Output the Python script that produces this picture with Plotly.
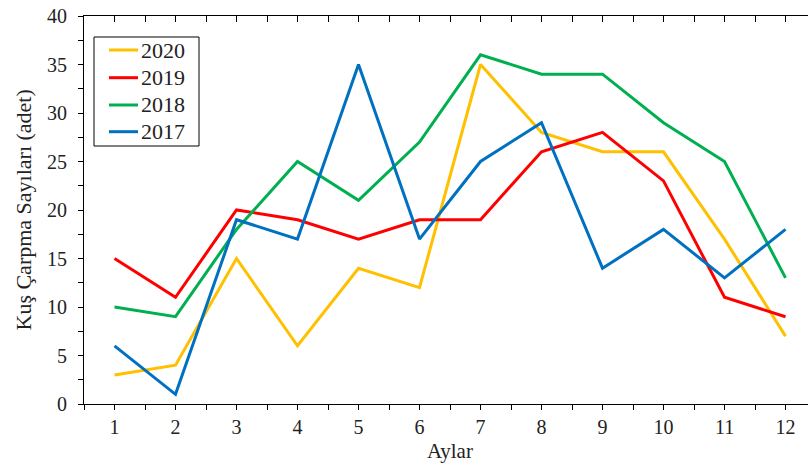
import plotly.graph_objects as go

months = list(range(1, 13))
series_names = ["2020", "2019", "2018", "2017"]
v2020 = [3, 4, 15, 6, 14, 12, 35, 28, 26, 26, 17, 7]
v2019 = [15, 11, 20, 19, 17, 19, 19, 26, 28, 23, 11, 9]
v2018 = [10, 9, 18, 25, 21, 27, 36, 34, 34, 29, 25, 13]
v2017 = [6, 1, 19, 17, 35, 17, 25, 29, 14, 18, 13, 18]
colors = ["#FFC000", "#FF0000", "#00B050", "#0070C0"]
x_title = "Aylar"
y_title = "Kuş Çarpma Sayıları (adet)"

FONT = "Liberation Serif"
TXT = "#222222"
FS_TICK = 20
FS_TITLE = 21
FS_YTITLE = 22
FS_LEG = 22

# plot area in pixels
L, R, T, B = 84, 808, 16, 404
W, H = 808, 465


def px_x(p):
    return (p - L) / (R - L)


def px_y(p):
    return (B - p) / (B - T)


fig = go.Figure()
for name, vals, c in zip(series_names, [v2020, v2019, v2018, v2017], colors):
    fig.add_trace(go.Scatter(x=months, y=vals, mode="lines", name=name,
                             line=dict(color=c, width=3), showlegend=False))

xr = [0.5, 0.5 + (R - L) / 61.0]

shapes = [dict(type="rect", xref="paper", yref="paper",
               x0=px_x(94), x1=px_x(199), y0=px_y(37), y1=px_y(146),
               line=dict(color="black", width=1), fillcolor="white", layer="above")]
annotations = []
leg_y = [50, 77.7, 105, 131.7]
for name, c, yy in zip(series_names, colors, leg_y):
    shapes.append(dict(type="line", xref="paper", yref="paper",
                       x0=px_x(109), x1=px_x(138), y0=px_y(yy), y1=px_y(yy),
                       line=dict(color=c, width=3), layer="above"))
    annotations.append(dict(text=name, xref="paper", yref="paper",
                            x=px_x(139), y=px_y(yy), xanchor="left", yanchor="middle",
                            showarrow=False, font=dict(family=FONT, size=FS_LEG, color=TXT)))

annotations.append(dict(text=x_title, xref="paper", yref="paper",
                        x=px_x(450), y=px_y(451), xanchor="center", yanchor="middle",
                        showarrow=False, font=dict(family=FONT, size=FS_TITLE, color=TXT)))
annotations.append(dict(text=y_title, xref="paper", yref="paper", textangle=-90,
                        x=px_x(22.5), y=0.5, xanchor="center", yanchor="middle",
                        showarrow=False, font=dict(family=FONT, size=FS_YTITLE, color=TXT)))

fig.update_layout(
    width=W, height=H,
    margin=dict(l=L, r=W - R, t=T, b=H - B, autoexpand=False),
    paper_bgcolor="white", plot_bgcolor="white",
    font=dict(family=FONT, size=FS_TICK, color=TXT),
    showlegend=False,
    shapes=shapes,
    annotations=annotations,
    xaxis=dict(range=xr, tick0=1, dtick=1, ticks="outside", ticklen=5,
               tickcolor="black", showline=True, linecolor="black", linewidth=1,
               showgrid=False, zeroline=False, automargin=False,
               minor=dict(tick0=0.5, dtick=0.5, ticks="outside", ticklen=5, tickcolor="black"),
               tickfont=dict(family=FONT, size=FS_TICK, color=TXT)),
    xaxis2=dict(range=xr, overlaying="x", side="top", tick0=0.5, dtick=0.5,
                ticks="inside", ticklen=6, tickcolor="black",
                showline=True, linecolor="black", linewidth=1, automargin=False,
                showticklabels=False, showgrid=False, zeroline=False),
    yaxis=dict(range=[0, 40], tick0=0, dtick=5, ticks="outside", ticklen=5,
               tickcolor="black", showline=True, linecolor="black", linewidth=1,
               showgrid=False, zeroline=False, automargin=False,
               minor=dict(tick0=0, dtick=2.5, ticks="outside", ticklen=5, tickcolor="black"),
               tickfont=dict(family=FONT, size=FS_TICK, color=TXT),
               ticklabelstandoff=7),
)
fig.add_trace(go.Scatter(x=months, y=[None] * 12, xaxis="x2", showlegend=False,
                         hoverinfo="skip", mode="lines"))

fig.write_html("out.html", config={"displayModeBar": False},
               post_script="document.body.style.margin='0';document.body.style.overflow='hidden';")
